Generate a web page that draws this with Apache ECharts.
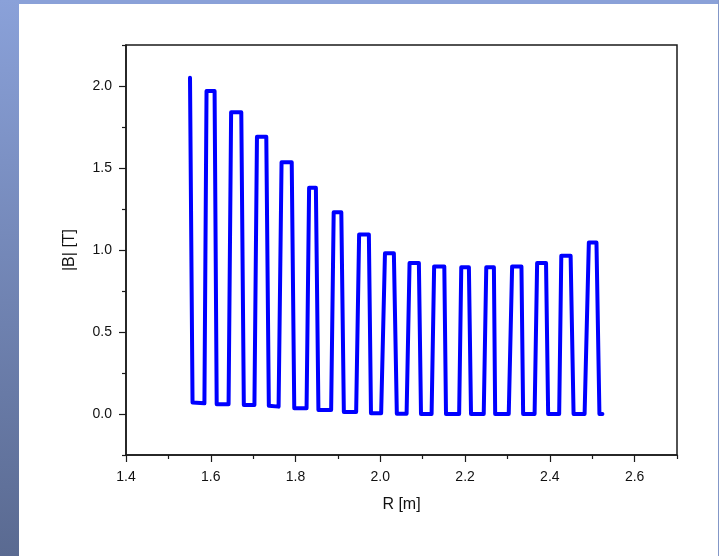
<!DOCTYPE html>
<html>
<head>
<meta charset="utf-8">
<title>|B| vs R</title>
<script src="https://cdn.jsdelivr.net/npm/echarts@6/dist/echarts.min.js"></script>
<style>
  html, body { margin: 0; padding: 0; background: #ffffff; }
  #chart { width: 719px; height: 556px; }
</style>
</head>
<body>
<div id="chart"></div>
<script>
// Major radius R [m] along the scan
const radius = [
  1.551, 1.557, 1.585, 1.590, 1.609, 1.614, 1.642, 1.648, 1.672, 1.678,
  1.703, 1.709, 1.731, 1.737, 1.760, 1.767, 1.791, 1.797, 1.826, 1.832,
  1.848, 1.854, 1.884, 1.890, 1.908, 1.914, 1.943, 1.950, 1.973, 1.978,
  2.002, 2.011, 2.032, 2.039, 2.062, 2.069, 2.091, 2.096, 2.121, 2.127,
  2.151, 2.155, 2.186, 2.191, 2.209, 2.214, 2.244, 2.250, 2.268, 2.271,
  2.303, 2.311, 2.333, 2.337, 2.364, 2.370, 2.391, 2.396, 2.422, 2.427,
  2.449, 2.456, 2.482, 2.492, 2.510, 2.517, 2.524
];
// Field magnitude |B| [T] at each radius
const field = [
  2.050, 0.070, 0.065, 1.970, 1.970, 0.060, 0.060, 1.840, 1.840, 0.055,
  0.055, 1.690, 1.690, 0.050, 0.045, 1.535, 1.535, 0.035, 0.035, 1.380,
  1.380, 0.025, 0.025, 1.230, 1.230, 0.012, 0.012, 1.095, 1.095, 0.005,
  0.005, 0.980, 0.980, 0.002, 0.002, 0.920, 0.920, 0.000, 0.000, 0.900,
  0.900, 0.000, 0.000, 0.895, 0.895, 0.000, 0.000, 0.895, 0.895, 0.000,
  0.000, 0.900, 0.900, 0.000, 0.000, 0.920, 0.920, 0.000, 0.000, 0.965,
  0.965, 0.000, 0.000, 1.045, 1.045, 0.000, 0.000
];

// Tick positions
const xMajorTicks = [1.4, 1.6, 1.8, 2.0, 2.2, 2.4, 2.6];
const xMinorTicks = [1.5, 1.7, 1.9, 2.1, 2.3, 2.5, 2.7];
const yMajorTicks = [0.0, 0.5, 1.0, 1.5, 2.0];
const yMinorTicks = [-0.25, 0.25, 0.75, 1.25, 1.75, 2.25];

const FONT = '"Liberation Sans", Arial, sans-serif';
const AXIS_COLOR = '#1a1a1a';

const points = radius.map((r, i) => [r, field[i]]);

const chart = echarts.init(document.getElementById('chart'), null, { renderer: 'canvas' });

const xRange = { min: 1.4, max: 2.7 };
const yRange = { min: -0.25, max: 2.25 };

chart.setOption({
  animation: false,
  backgroundColor: '#ffffff',
  graphic: [
    // page frame: thin strip on top, shaded strip on the left, hairline on the right
    {
      type: 'rect', z: -10, silent: true,
      shape: { x: 0, y: 0, width: 719, height: 4 },
      style: { fill: '#8aa1d8' }
    },
    {
      type: 'rect', z: -10, silent: true,
      shape: { x: 0, y: 0, width: 19, height: 556 },
      style: {
        fill: new echarts.graphic.LinearGradient(0, 0, 0, 1, [
          { offset: 0, color: '#8aa1d9' },
          { offset: 1, color: '#5a6a91' }
        ])
      }
    },
    {
      type: 'rect', z: -10, silent: true,
      shape: { x: 718, y: 0, width: 1, height: 556 },
      style: { fill: '#8397c8' }
    }
  ],
  grid: {
    left: 126, right: 42, top: 45, bottom: 101,
    show: true,
    borderColor: AXIS_COLOR,
    borderWidth: 1.5,
    backgroundColor: 'transparent'
  },
  xAxis: [
    {
      type: 'value', position: 'bottom', ...xRange,
      name: 'R [m]', nameLocation: 'middle', nameGap: 42,
      nameTextStyle: { fontFamily: FONT, fontSize: 16, color: '#111' },
      axisLine: { show: true, onZero: false, lineStyle: { color: AXIS_COLOR, width: 1.5 } },
      axisTick: { show: true, customValues: xMajorTicks, length: 7, lineStyle: { color: AXIS_COLOR, width: 1.2 } },
      axisLabel: {
        customValues: xMajorTicks, margin: 15,
        fontFamily: FONT, fontSize: 14, color: '#111',
        formatter: v => v.toFixed(1)
      },
      splitLine: { show: false }
    },
    {
      type: 'value', position: 'bottom', ...xRange,
      axisLine: { show: false, onZero: false },
      axisTick: { show: true, customValues: xMinorTicks, length: 4, lineStyle: { color: AXIS_COLOR, width: 1.2 } },
      axisLabel: { show: false },
      splitLine: { show: false }
    }
  ],
  yAxis: [
    {
      type: 'value', position: 'left', ...yRange,
      name: '|B| [T]', nameLocation: 'middle', nameGap: 48,
      nameTextStyle: { fontFamily: FONT, fontSize: 16, color: '#111' },
      axisLine: { show: true, onZero: false, lineStyle: { color: AXIS_COLOR, width: 1.5 } },
      axisTick: { show: true, customValues: yMajorTicks, length: 7, lineStyle: { color: AXIS_COLOR, width: 1.2 } },
      axisLabel: {
        customValues: yMajorTicks, margin: 14,
        fontFamily: FONT, fontSize: 14, color: '#111',
        formatter: v => v.toFixed(1)
      },
      splitLine: { show: false }
    },
    {
      type: 'value', position: 'left', ...yRange,
      axisLine: { show: false, onZero: false },
      axisTick: { show: true, customValues: yMinorTicks, length: 4, lineStyle: { color: AXIS_COLOR, width: 1.2 } },
      axisLabel: { show: false },
      splitLine: { show: false }
    }
  ],
  series: [
    {
      type: 'line',
      xAxisIndex: 0, yAxisIndex: 0,
      data: points,
      showSymbol: false,
      symbol: 'none',
      lineStyle: { color: '#0000ff', width: 4, join: 'round', cap: 'round' },
      z: 5
    }
  ]
});
</script>
</body>
</html>
